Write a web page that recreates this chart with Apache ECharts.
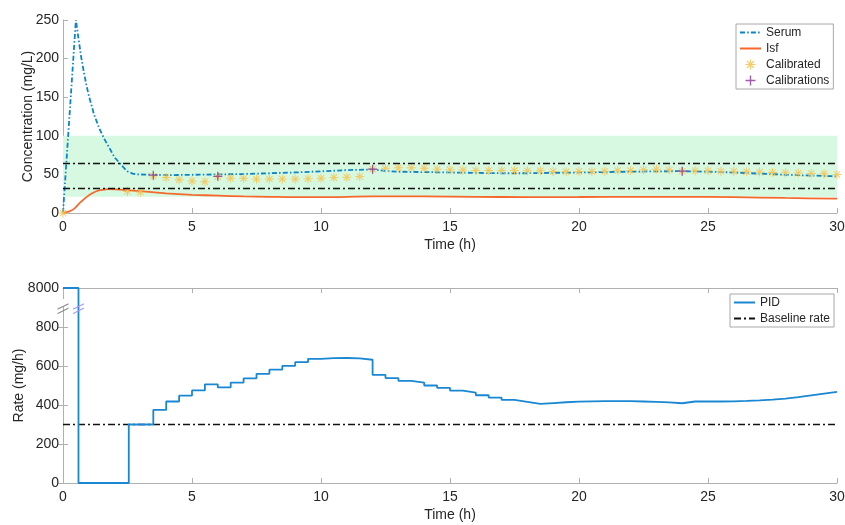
<!DOCTYPE html>
<html>
<head>
<meta charset="utf-8">
<script src="https://cdn.jsdelivr.net/npm/echarts@6/dist/echarts.min.js"></script>
<style>
html,body{margin:0;padding:0;background:#fff;}
#chart{width:845px;height:525px;}
</style>
</head>
<body>
<div id="chart"></div>
<script>
// ---------------- data ----------------
const serumTime = [0,0.5,0.6,0.7,0.8,0.9,1.0,1.2,1.4,1.6,1.8,2.0,2.2,2.4,2.5,2.7,2.9,3.5,4,5,6,7,8,9,10,11,12,12.5,13,14,15,16,17,18,19,20,21,22,23,24,25,26,27,28,29,30];
const serum     = [0,250,226,203,184,167,152,128,110,96,84,72,64.5,57,54,51,50,49.5,49,49.5,50,50.5,51.5,52.5,54,55.5,56.5,54.5,53.5,53,52.5,52,51.5,51.5,52,52.5,53,53.5,54,54.2,53.5,52.5,51,49.5,48.5,47.5];

const isfTime = [0,0.25,0.45,0.65,0.85,1.05,1.25,1.45,1.8,2.4,3.1,4,4.5,5,6,7,8,9,10,12,14,16,18,20,22,24,26,28,30];
const isf     = [0,2,6,13,19,24,27.5,29.5,31,30,28,25.5,24.5,23.5,22.5,21.5,21,20.5,20.5,21.5,21.5,21,20.5,20.7,21,21,20.5,19.5,18.5];

const calibratedTime = [0,2.5,3,3.5,4,4.5,5,5.5,6,6.5,7,7.5,8,8.5,9,9.5,10,10.5,11,11.5,12,12.5,13,13.5,14,14.5,15,15.5,16,16.5,17,17.5,18,18.5,19,19.5,20,20.5,21,21.5,22,22.5,23,23.5,24,24.5,25,25.5,26,26.5,27,27.5,28,28.5,29,29.5,30];
const calibrated     = [0,28,27,48,46,43,41.6,40.6,47,45,45,44,44,44,44,44.5,45,46,46.4,47.3,56.8,58,58.6,58.6,58,56.8,56,55.6,55,55,55,55,54.8,54.8,53.8,53.5,53.8,53.8,54.2,55,55,56,56.8,55.6,54.2,54.6,54.6,54.2,54.2,53.4,53,52.6,52.2,51.7,51.3,50.9,50];

const calibrationsTime = [3.5,6,12,24];
const calibrations     = [49,47.5,56.8,54.2];

const therapeuticRange = [21,100];   // green band (mg/L)
const targetLimits     = [64,32];    // dash-dot limits (mg/L)

const pidTime = [0,0.6,2.55,3.5,4,4.5,5,5.5,6,6.5,7,7.5,8,8.5,9,9.5,10,10.5,11,11.5,12,12.5,13,13.5,14,14.5,15,15.5,16,16.5,17,17.5,18,18.5,19,19.5,20,20.5,21,21.5,22,22.5,23,23.5,24,24.5,25,25.5,26,26.5,27,27.5,28,28.5,29,29.5,30];
const pidRate = [8000,0,300,375,418,448,475,506,490,515,537,560,581,601,620,637,640,641,639,632,554,538,524,515,500,488,474,464,450,438,426,416,406,410,414,417,419,420,420,420,418,416,413,409,418,418,418,419,421,424,428,433,440,449,458,467,467];

const baselineRate = 300;
const timeRange = [0,30];
const rateTicks = [0,200,400,600,800,8000];
const rateBreak = {start:900, end:7950, mark:894};

// -------------- helpers --------------
const zip = (a,b) => a.map((v,i)=>[v,b[i]]);
const FONT = '"Liberation Sans", Arial, Helvetica, sans-serif';
const TXT = '#262626';
const AX = '#b0b0b0';
const asterisk = 'path://M1,9 L19,9 L19,11 L1,11 Z M9,1 L11,1 L11,19 L9,19 Z M3,4.4 L4.4,3 L17,15.6 L15.6,17 Z M15.6,3 L17,4.4 L4.4,17 L3,15.6 Z';
const plus = 'path://M8.6,0 L11.4,0 L11.4,8.6 L20,8.6 L20,11.4 L11.4,11.4 L11.4,20 L8.6,20 L8.6,11.4 L0,11.4 L0,8.6 L8.6,8.6 Z';
const breakMark = 'path://M0,6 L12,0 L12,1.4 L0,7.4 Z M0,11 L12,5 L12,6.4 L0,12.4 Z';
const dashDot = [5,2.2,1.5,2.2];
const blackDashDot = [7,3,2,3];

const xAxisBase = (grid) => ({
  gridIndex:grid, type:'value', min:timeRange[0], max:timeRange[1], interval:5,
  axisLine:{onZero:false, lineStyle:{color:AX,width:1}},
  axisTick:{inside:true,length:5,lineStyle:{color:AX}},
  axisLabel:{color:TXT,fontSize:14,fontFamily:FONT,margin:7},
  splitLine:{show:false},
  name:'Time (h)', nameLocation:'middle', nameGap:25, nameMoveOverlap:false,
  nameTextStyle:{color:TXT,fontSize:14,fontFamily:FONT}
});

const rateAxis = (pos, labels) => ({
  gridIndex:1, type:'value', position:pos, min:0, max:8000,
  breaks:[{start:rateBreak.start, end:rateBreak.end, gap:50}],
  breakArea:{show:false},
  axisLine:{show:true, lineStyle:{color:AX}},
  axisTick:{show:true,inside:true,length:5,lineStyle:{color:AX},customValues:rateTicks.slice(0,5)},
  axisLabel:labels ? {color:TXT,fontSize:14,fontFamily:FONT,margin:4,customValues:rateTicks,
                      formatter:(v)=>String(v)} : {show:false},
  splitLine:{show:false}
});

const yRate = rateAxis('left', true);
yRate.name = 'Rate (mg/h)';
yRate.nameLocation = 'middle';
yRate.nameGap = 37;
yRate.nameMoveOverlap = false;
yRate.nameTextStyle = {color:TXT,fontSize:14,fontFamily:FONT};

const lineLegend = (name) => ({name, itemStyle:{opacity:0}});

const option = {
  animation:false,
  backgroundColor:'#fff',
  textStyle:{fontFamily:FONT},
  grid:[
    {left:63, top:20, width:774, height:193, containLabel:false, outerBoundsMode:'none'},
    {left:63, top:288, width:774, height:195, containLabel:false, outerBoundsMode:'none'}
  ],
  legend:[
    {
      data:[lineLegend('Serum'), lineLegend('Isf'), {name:'Calibrated'}, {name:'Calibrations'}],
      orient:'vertical', left:736, top:24,
      itemWidth:21, itemHeight:10, itemGap:3,
      padding:[2,4,2,3],
      backgroundColor:'#fff', borderColor:'#a8a8a8', borderWidth:1,
      textStyle:{fontSize:12,color:TXT,fontFamily:FONT,lineHeight:13}
    },
    {
      data:[lineLegend('PID'), lineLegend('Baseline rate')],
      orient:'vertical', left:730, top:294,
      itemWidth:21, itemHeight:10, itemGap:3,
      padding:[2,4,2,3],
      backgroundColor:'#fff', borderColor:'#a8a8a8', borderWidth:1,
      textStyle:{fontSize:12,color:TXT,fontFamily:FONT,lineHeight:13}
    }
  ],
  xAxis:[
    xAxisBase(0),
    xAxisBase(1),
    {gridIndex:1, type:'value', position:'top', min:timeRange[0], max:timeRange[1], interval:5,
     axisLine:{onZero:false, lineStyle:{color:AX}}, axisTick:{inside:true,length:5,lineStyle:{color:AX}},
     axisLabel:{show:false}, splitLine:{show:false}}
  ],
  yAxis:[
    {gridIndex:0, type:'value', min:0, max:250, interval:50,
     axisLine:{show:true, lineStyle:{color:AX}},
     axisTick:{show:true,inside:true,length:5,lineStyle:{color:AX}},
     axisLabel:{color:TXT,fontSize:14,fontFamily:FONT,margin:4},
     splitLine:{show:false},
     name:'Concentration (mg/L)', nameLocation:'middle', nameGap:28, nameMoveOverlap:false,
     nameTextStyle:{color:TXT,fontSize:14,fontFamily:FONT}},
    yRate,
    rateAxis('right', false)
  ],
  series:[
    {
      name:'Serum', type:'line', xAxisIndex:0, yAxisIndex:0,
      data:zip(serumTime, serum), symbol:'none', showSymbol:false,
      lineStyle:{color:'#0d84c9', width:1.8, type:dashDot},
      itemStyle:{color:'#0d84c9'},
      z:3,
      markArea:{silent:true, itemStyle:{color:'#d7f9e1'},
        data:[[{yAxis:therapeuticRange[0]},{yAxis:therapeuticRange[1]}]]},
      markLine:{silent:true, symbol:'none', label:{show:false},
        lineStyle:{color:'#111', width:1.3, type:blackDashDot},
        data:targetLimits.map(v=>({yAxis:v}))}
    },
    {
      name:'Isf', type:'line', xAxisIndex:0, yAxisIndex:0,
      data:zip(isfTime, isf), symbol:'none', showSymbol:false, smooth:0.3,
      lineStyle:{color:'#f4682b', width:1.8},
      itemStyle:{color:'#f4682b'}, z:3
    },
    {
      name:'Calibrated', type:'scatter', xAxisIndex:0, yAxisIndex:0,
      data:zip(calibratedTime, calibrated), symbol:asterisk, symbolSize:9,
      itemStyle:{color:'#f3c65a', opacity:0.9}, z:4
    },
    {
      name:'Calibrations', type:'scatter', xAxisIndex:0, yAxisIndex:0,
      data:zip(calibrationsTime, calibrations), symbol:plus, symbolSize:9,
      itemStyle:{color:'#8a3596'}, z:5
    },
    {
      name:'PID', type:'line', xAxisIndex:1, yAxisIndex:1, step:'end',
      data:zip(pidTime, pidRate), symbol:'none', showSymbol:false,
      lineStyle:{color:'#1a87d3', width:1.8},
      itemStyle:{color:'#1a87d3'}, z:3,
      markPoint:{silent:true, symbol:breakMark, symbolSize:[11,11], label:{show:false},
        data:[
          {coord:[timeRange[0], rateBreak.mark], itemStyle:{color:'#8c8c8c'}},
          {coord:[pidTime[1], rateBreak.mark], itemStyle:{color:'#a897f5'}}
        ]}
    },
    {
      name:'Baseline rate', type:'line', xAxisIndex:1, yAxisIndex:1,
      data:[[timeRange[0], baselineRate],[timeRange[1], baselineRate]],
      symbol:'none', showSymbol:false,
      lineStyle:{color:'#111', width:1.3, type:blackDashDot},
      itemStyle:{color:'#111'}, z:2
    }
  ]
};

const chart = echarts.init(document.getElementById('chart'), null, {renderer:'canvas'});
chart.setOption(option);
</script>
</body>
</html>
